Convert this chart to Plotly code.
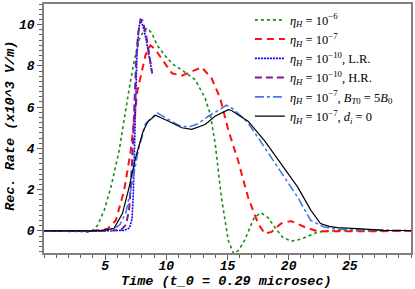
import plotly.graph_objects as go

# ---- data ----
g_x = [0, 2, 3, 3.5, 3.9, 4.38, 4.92, 5.47, 6.14, 6.95, 7.36, 7.8, 8.2, 8.45, 8.8, 9.25, 10.06, 10.6, 11.27, 12.36,
       13.17, 13.6, 14.0, 14.5, 15.06, 15.5, 15.9, 16.4, 17.2, 17.76, 18.3, 18.85, 19.5, 20.2, 21.0, 22.4, 24, 27, 30]
g_y = [0, 0, -0.03, -0.06, -0.02, 0.27, 1.0, 2.12, 3.88, 6.85, 8.2, 9.3, 9.75, 9.82, 9.6, 9.0, 8.37, 8.05, 7.8, 7.33,
       6.44, 5.64, 4.2, 1.63, -0.45, -1.1, -0.95, -0.45, 0.67, 0.87, 0.65, 0.19, -0.3, -0.5, -0.4, -0.05, 0.02, 0, 0]

r_x = [0, 4, 5.2, 5.87, 6.55, 7.09, 7.63, 7.9, 8.3, 8.71, 9.1, 9.79, 10.46, 11.27, 12.08, 12.9, 13.7, 14.4, 15.06,
       15.87, 16.68, 17.5, 18.04, 18.6, 19.38, 20.2, 21.3, 22.36, 25, 30]
r_y = [0, 0, 0.1, 0.51, 1.96, 3.88, 6.76, 7.49, 8.53, 9.0, 8.8, 8.2, 7.64, 7.53, 7.73, 7.93, 7.4, 6.44, 4.9,
       3.4, 1.63, 0.36, -0.13, -0.05, 0.36, 0.48, 0.19, -0.02, -0.02, 0]

lr_x = [0, 5, 6.5, 7.0, 7.2, 7.3, 7.4, 7.5, 7.6, 7.75, 7.88, 8.05, 8.2, 8.43, 8.65, 8.85]
lr_y = [0, 0, 0.02, 0.15, 0.6, 1.8, 4.0, 6.8, 8.6, 9.8, 10.25, 10.0, 9.7, 9.0, 8.2, 7.6]

hr_x = [0, 5, 6.3, 6.7, 6.95, 7.1, 7.25, 7.4, 7.55, 7.7, 7.9, 8.05, 8.3, 8.57, 8.84]
hr_y = [0, 0, 0.05, 0.3, 1.0, 2.2, 4.0, 6.5, 8.5, 9.6, 10.25, 10.2, 9.65, 8.69, 7.64]

bt_x = [0, 4.5, 5.6, 6.2, 6.7, 7.2, 7.7, 8.3, 9.25, 10.2, 11.0, 11.8, 12.6, 13.44, 14.5, 14.92, 15.5, 16.68,
        18.04, 19.38, 20.74, 21.8, 22.9, 24, 26, 30]
bt_y = [0, 0, 0.05, 0.3, 0.9, 2.3, 3.9, 5.2, 5.72, 5.4, 5.12, 5.03, 5.2, 5.56, 5.96, 6.09, 5.9, 5.24,
        4.04, 2.84, 1.63, 0.51, 0.19, 0.08, 0.05, 0.02]

k_x = [0, 4.5, 5.06, 5.73, 6.41, 6.95, 7.49, 8.11, 8.5, 9.11, 10.19, 11.27, 12.08, 13.17, 13.98, 15.06, 15.33,
       16.68, 18.04, 19.38, 20.74, 21.82, 22.6, 23.3, 23.98, 25.6, 27.8, 30]
k_y = [0, 0, 0.05, 0.13, 0.84, 2.1, 3.56, 4.84, 5.3, 5.61, 5.32, 5.0, 4.92, 5.16, 5.56, 5.88, 5.84,
       5.32, 4.36, 3.24, 2.12, 1.0, 0.36, 0.22, 0.16, 0.11, 0.03, 0.02]

names = [
    "<i>η<sub>H</sub></i> = 10<sup>−6</sup>",
    "<i>η<sub>H</sub></i> = 10<sup>−7</sup>",
    "<i>η<sub>H</sub></i> = 10<sup>−10</sup>, L.R.",
    "<i>η<sub>H</sub></i> = 10<sup>−10</sup>, H.R.",
    "<i>η<sub>H</sub></i> = 10<sup>−7</sup>, <i>B<sub>T</sub></i><sub>0</sub> = 5<i>B</i><sub>0</sub>",
    "<i>η<sub>H</sub></i> = 10<sup>−7</sup>, <i>d<sub>i</sub></i> = 0",
]
x_ticks = [5, 10, 15, 20, 25]
y_ticks = [0, 2, 4, 6, 8, 10]

series = [
    (g_x, g_y, dict(color="#1a8a1a", width=1.6, dash="dot")),
    (r_x, r_y, dict(color="#ff1010", width=2, dash="7px,5px")),
    (lr_x, lr_y, dict(color="#0000ff", width=1.6, dash="2px,1px")),
    (hr_x, hr_y, dict(color="#7a1a9a", width=2, dash="7px,4px")),
    (bt_x, bt_y, dict(color="#4477ee", width=1.6, dash="dashdot")),
    (k_x, k_y, dict(color="#000000", width=1.2)),
]

fig = go.Figure()
for (xs, ys, ln), nm in zip(series, names):
    fig.add_trace(go.Scatter(x=xs, y=ys, mode="lines", line=ln, name=nm))

tickfont = dict(family="Liberation Mono", size=13, color="#000", weight="bold", style="italic")
axis_common = dict(showline=True, linecolor="#808080", linewidth=1.5, mirror=True, showgrid=False,
                   zeroline=False, ticks="outside", tickcolor="#606060", tickfont=tickfont)

fig.update_layout(
    width=415, height=289,
    margin=dict(l=44, r=2, t=2, b=36),
    paper_bgcolor="white", plot_bgcolor="white",
    xaxis=dict(range=[0, 30], tickmode="array", tickvals=x_ticks, ticklen=5, ticklabelstandoff=-5,
               minor=dict(dtick=1, ticklen=3, ticks="outside", tickcolor="#606060"),
               **axis_common),
    yaxis=dict(range=[-1.07, 11.0], tickmode="array", tickvals=y_ticks, ticklen=5,
               minor=dict(dtick=0.25, tick0=0, ticklen=3, ticks="outside", tickcolor="#606060"),
               **axis_common),
    legend=dict(x=0.561, y=0.995, xanchor="left", yanchor="top", bgcolor="rgba(0,0,0,0)",
                font=dict(family="Liberation Serif", size=12.5, color="#000")),
    showlegend=True,
)
titlefont = dict(family="Liberation Mono", size=13.5, color="#000", weight="bold", style="italic")
fig.add_annotation(text="Time (t_0 = 0.29 microsec)", xref="paper", yref="paper", x=0.497, y=-0.116,
                   xanchor="center", yanchor="middle", showarrow=False, borderpad=0, font=titlefont)
fig.add_annotation(text="Rec. Rate (x10^3 V/m)", xref="paper", yref="paper", x=-0.092, y=0.512,
                   xanchor="center", yanchor="middle", showarrow=False, textangle=-90, borderpad=0,
                   font=titlefont)

fig.write_html("out.html", config={"displayModeBar": False},
               post_script="document.body.style.margin='0';document.body.style.overflow='hidden';")
